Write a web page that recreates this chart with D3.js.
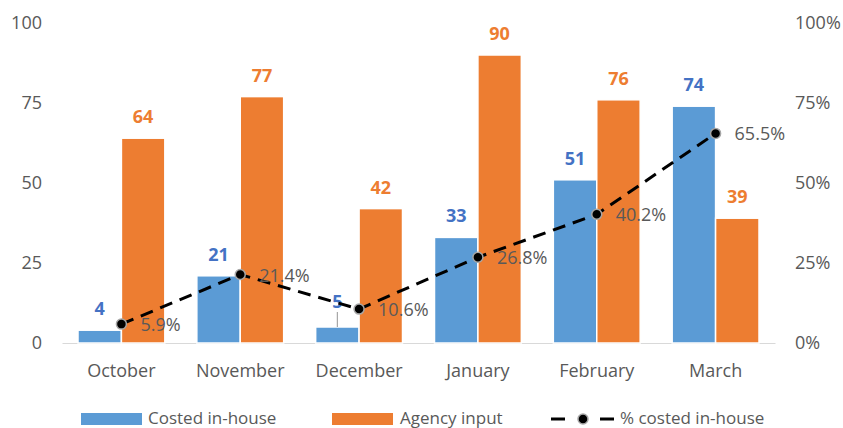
<!DOCTYPE html>
<html>
<head>
<script src="https://d3js.org/d3.v7.min.js"></script>
<style>
  body { margin: 0; background: #fff; }
  text { font-family: "Open Sans", sans-serif; }
</style>
</head>
<body>
<div id="chart"></div>
<script>
const months = ['October', 'November', 'December', 'January', 'February', 'March'];
const costedInHouse = [4, 21, 5, 33, 51, 74];
const agencyInput = [64, 77, 42, 90, 76, 39];
const pctCosted = [5.9, 21.4, 10.6, 26.8, 40.2, 65.5];
const leftTicks = [0, 25, 50, 75, 100];
const rightTicks = [0, 25, 50, 75, 100];

const width = 843, height = 428;
const margin = { top: 23, right: 68, bottom: 85, left: 62 };
const w = width - margin.left - margin.right;
const h = height - margin.top - margin.bottom;

const blue = '#5B9BD5', orange = '#ED7D31';
const blueText = '#4472C4', grey = '#595959';
const fs = '18px';

const svg = d3.select('#chart').append('svg')
  .attr('width', width).attr('height', height);
const g = svg.append('g').attr('transform', `translate(${margin.left},${margin.top})`);

const x = d3.scaleBand().domain(months).range([0, w]);
const x1 = d3.scaleBand().domain(['a', 'b']).range([16, x.bandwidth() - 16]).paddingInner(0);
const y = d3.scaleLinear().domain([0, 100]).range([h, 0]);
const y2 = d3.scaleLinear().domain([0, 100]).range([h, 0]);

// axes
const yAxis = g.append('g').call(d3.axisLeft(y).tickValues(leftTicks).tickSize(0).tickPadding(20));
yAxis.select('.domain').remove();
const y2Axis = g.append('g').attr('transform', `translate(${w},0)`)
  .call(d3.axisRight(y2).tickValues(rightTicks).tickSize(0).tickPadding(20).tickFormat(d => d + '%'));
y2Axis.select('.domain').remove();
const xAxis = g.append('g').attr('transform', `translate(0,${h})`)
  .call(d3.axisBottom(x).tickSize(0).tickPadding(21));
xAxis.select('.domain').attr('stroke', '#d9d9d9');
g.selectAll('.tick text').attr('fill', grey).style('font-size', fs);

// bars
const groups = g.selectAll('.grp').data(months).join('g')
  .attr('transform', d => `translate(${x(d)},0)`);
groups.append('rect')
  .attr('x', x1('a')).attr('width', x1.bandwidth())
  .attr('y', (d, i) => y(costedInHouse[i])).attr('height', (d, i) => h - y(costedInHouse[i]))
  .attr('fill', blue).attr('stroke', '#fff').attr('stroke-width', 1.5);
groups.append('rect')
  .attr('x', x1('b')).attr('width', x1.bandwidth())
  .attr('y', (d, i) => y(agencyInput[i])).attr('height', (d, i) => h - y(agencyInput[i]))
  .attr('fill', orange).attr('stroke', '#fff').attr('stroke-width', 1.5);

// value labels
groups.append('text')
  .attr('x', x1('a') + x1.bandwidth() / 2)
  .attr('y', (d, i) => y(costedInHouse[i]) - (i === 2 ? 19 : 15))
  .attr('text-anchor', 'middle').attr('fill', blueText)
  .style('font-size', fs).style('font-weight', 'bold')
  .text((d, i) => costedInHouse[i]);
groups.append('text')
  .attr('x', x1('b') + x1.bandwidth() / 2)
  .attr('y', (d, i) => y(agencyInput[i]) - 15)
  .attr('text-anchor', 'middle').attr('fill', orange)
  .style('font-size', fs).style('font-weight', 'bold')
  .text((d, i) => agencyInput[i]);

// December leader line
groups.filter((d, i) => i === 2).append('line')
  .attr('x1', x1('a') + x1.bandwidth() / 2).attr('x2', x1('a') + x1.bandwidth() / 2)
  .attr('y1', y(costedInHouse[2]) - 15).attr('y2', y(costedInHouse[2]))
  .attr('stroke', '#a6a6a6').attr('stroke-width', 1.2);

// line series
const line = d3.line().x((d, i) => x(months[i]) + x.bandwidth() / 2).y(d => y2(d));
g.append('path').datum(pctCosted).attr('d', line)
  .attr('fill', 'none').attr('stroke', '#000').attr('stroke-width', 3)
  .attr('stroke-dasharray', '13,8');
g.selectAll('.pt').data(pctCosted).join('circle')
  .attr('cx', (d, i) => x(months[i]) + x.bandwidth() / 2).attr('cy', d => y2(d))
  .attr('r', 5).attr('fill', '#000').attr('stroke', '#a6a6a6').attr('stroke-width', 1.5);
g.selectAll('.pl').data(pctCosted).join('text')
  .attr('x', (d, i) => x(months[i]) + x.bandwidth() / 2 + 19).attr('y', d => y2(d) + 7)
  .attr('fill', grey).style('font-size', fs)
  .text(d => d.toFixed(1) + '%');

// legend
const lg = svg.append('g').attr('transform', 'translate(0,419)');
lg.append('rect').attr('x', 81).attr('y', -6).attr('width', 61).attr('height', 12).attr('fill', blue);
lg.append('text').attr('x', 148).attr('y', 4.5).attr('fill', grey).style('font-size', '17px').text('Costed in-house');
lg.append('rect').attr('x', 332).attr('y', -6).attr('width', 61).attr('height', 12).attr('fill', orange);
lg.append('text').attr('x', 400).attr('y', 4.5).attr('fill', grey).style('font-size', '17px').text('Agency input');
lg.append('line').attr('x1', 551).attr('x2', 565).attr('y1', 0).attr('y2', 0)
  .attr('stroke', '#000').attr('stroke-width', 3);
lg.append('line').attr('x1', 600).attr('x2', 614).attr('y1', 0).attr('y2', 0)
  .attr('stroke', '#000').attr('stroke-width', 3);
lg.append('circle').attr('cx', 583).attr('cy', 0).attr('r', 5).attr('fill', '#000')
  .attr('stroke', '#a6a6a6').attr('stroke-width', 1.5);
lg.append('text').attr('x', 620).attr('y', 4.5).attr('fill', grey).style('font-size', '17px').text('% costed in-house');
</script>
</body>
</html>
